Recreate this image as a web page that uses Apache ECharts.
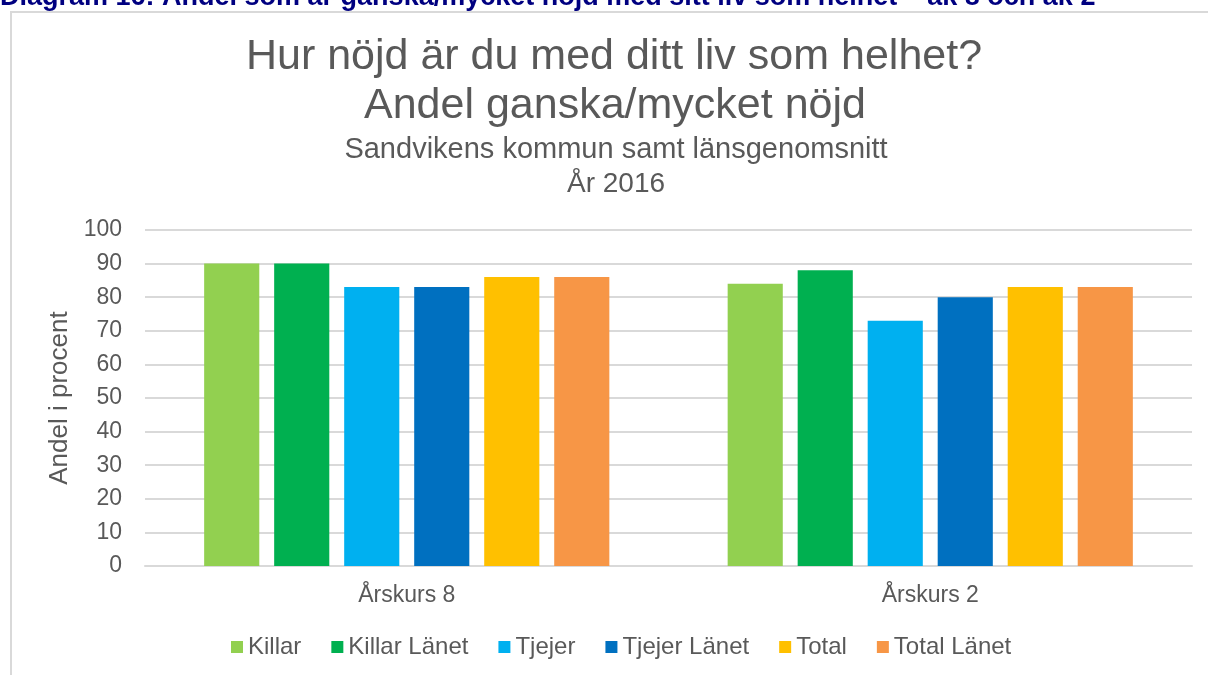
<!DOCTYPE html>
<html>
<head>
<meta charset="utf-8">
<script src="https://cdn.jsdelivr.net/npm/echarts@6/dist/echarts.min.js"></script>
<style>
html,body{margin:0;padding:0;background:#fff;}
#chart{width:1208px;height:675px;}
</style>
</head>
<body>
<div id="chart"></div>
<script>
const categories = ['Årskurs 8', 'Årskurs 2'];
const seriesNames = ['Killar', 'Killar Länet', 'Tjejer', 'Tjejer Länet', 'Total', 'Total Länet'];
const killar = [90, 84];
const killarLanet = [90, 88];
const tjejer = [83, 73];
const tjejerLanet = [83, 80];
const total = [86, 83];
const totalLanet = [86, 83];
const yTicks = [0, 100, 10];
const colors = ['#92D050', '#00B050', '#00B0F0', '#0070C0', '#FFC000', '#F79646'];
const allValues = [killar, killarLanet, tjejer, tjejerLanet, total, totalLanet];

const txt = '#595959';
const font = 'Liberation Sans, Arial, sans-serif';

const chart = echarts.init(document.getElementById('chart'), null, {renderer: 'canvas'});
chart.setOption({
  animation: false,
  backgroundColor: '#fff',
  textStyle: {fontFamily: font},
  graphic: [
    {type: 'rect', shape: {x: 11, y: 12, width: 1400, height: 1000}, style: {fill: 'none', stroke: '#d9d9d9', lineWidth: 2}, silent: true},
    {type: 'text', x: 0, y: -2, style: {text: 'Diagram 16: Andel som är ganska/mycket nöjd med sitt liv som helhet – åk 8 och åk 2', font: 'bold 27px ' + font, fill: '#000080', textAlign: 'left', textVerticalAlign: 'middle'}},
    {type: 'text', x: 614, y: 57, style: {text: 'Hur nöjd är du med ditt liv som helhet?', font: '43px ' + font, fill: txt, textAlign: 'center', textVerticalAlign: 'middle'}},
    {type: 'text', x: 615, y: 106, style: {text: 'Andel ganska/mycket nöjd', font: '43px ' + font, fill: txt, textAlign: 'center', textVerticalAlign: 'middle'}},
    {type: 'text', x: 616, y: 150, style: {text: 'Sandvikens kommun samt länsgenomsnitt', font: '29px ' + font, fill: txt, textAlign: 'center', textVerticalAlign: 'middle'}},
    {type: 'text', x: 616, y: 184, style: {text: 'År 2016', font: '28px ' + font, fill: txt, textAlign: 'center', textVerticalAlign: 'middle'}}
  ],
  legend: {
    data: seriesNames,
    left: 226,
    top: 630,
    icon: 'rect',
    itemWidth: 12,
    itemHeight: 12,
    itemGap: 30,
    textStyle: {color: txt, fontSize: 24, fontFamily: font}
  },
  grid: {left: 145, right: 16, top: 230, bottom: 109, containLabel: false},
  xAxis: {
    type: 'category',
    data: categories,
    axisLine: {lineStyle: {color: '#d9d9d9', width: 2}},
    axisTick: {show: false},
    axisLabel: {color: txt, fontSize: 23, margin: 18, fontFamily: font}
  },
  yAxis: {
    type: 'value',
    min: yTicks[0],
    max: yTicks[1],
    interval: yTicks[2],
    name: 'Andel i procent',
    nameLocation: 'middle',
    nameGap: 67,
    nameTextStyle: {color: txt, fontSize: 26, fontFamily: font},
    axisLine: {show: false},
    axisTick: {show: false},
    axisLabel: {color: txt, fontSize: 23, margin: 23, fontFamily: font},
    splitLine: {lineStyle: {color: '#d9d9d9', width: 2}}
  },
  series: seriesNames.map((n, i) => ({
    name: n,
    type: 'bar',
    data: allValues[i],
    itemStyle: {color: colors[i]},
    barGap: '27%',
    barCategoryGap: '22.6%'
  }))
});
</script>
</body>
</html>
